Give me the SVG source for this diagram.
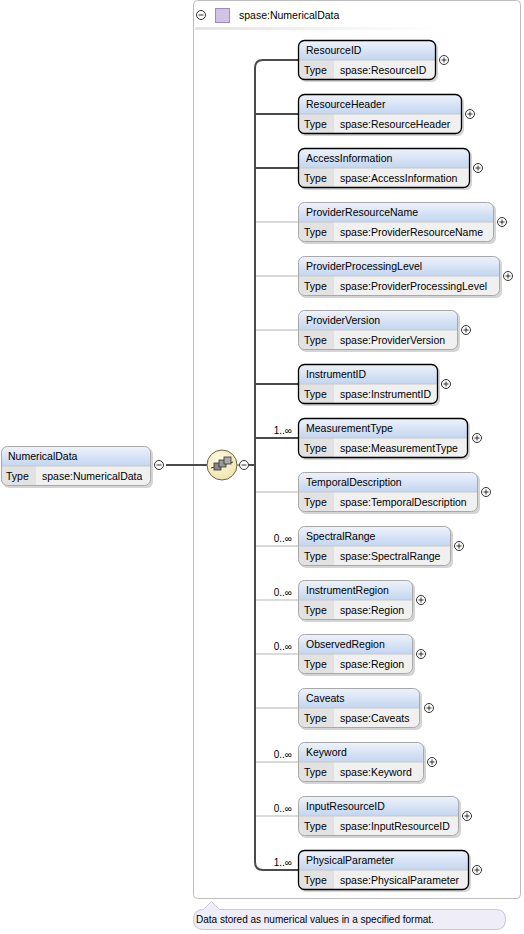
<svg xmlns="http://www.w3.org/2000/svg" width="524" height="934" viewBox="0 0 524 934">
<defs>
<linearGradient id="hdr" x1="0" y1="0" x2="0" y2="1"><stop offset="0" stop-color="#eef3fb"/><stop offset="1" stop-color="#c3d5f0"/></linearGradient>
<linearGradient id="ttl" x1="0" y1="0" x2="1" y2="0"><stop offset="0" stop-color="#e4e4e4"/><stop offset="1" stop-color="#ffffff"/></linearGradient>
<radialGradient id="seq" cx="0.4" cy="0.35" r="0.7"><stop offset="0" stop-color="#fffbe6"/><stop offset="1" stop-color="#efe3a8"/></radialGradient>
</defs>
<style>
text{font-family:"Liberation Sans",Arial,sans-serif;font-size:10.5px;fill:#000}
.sh{fill:#b8b8b8;opacity:0.6}
.hd{fill:url(#hdr)}
.row{fill:#f0f0f0}
.tc{fill:#e2e2e2}
.bd{fill:none;stroke:#000;stroke-width:1.3}
.bo{fill:none;stroke:#a8a8a8;stroke-width:1}
.sep{stroke:#c8c8c8;stroke-width:1}
.pl{fill:#fff;stroke:#333;stroke-width:1}
.pm{stroke:#333;stroke-width:1}
.req{stroke:#4a4a4a;stroke-width:2;fill:none}
.opt{stroke:#b4b4b4;stroke-width:1;fill:none}
.card{font-size:10px;text-anchor:end}
</style>

<!-- outer box -->
<rect x="193.5" y="0.5" width="327" height="898" rx="4" fill="#fff" stroke="#bdbdbd" stroke-width="1"/>
<rect x="195" y="27" width="245" height="3" fill="url(#ttl)"/>
<g id="title">
<circle cx="201" cy="15" r="4.5" class="pl"/><line x1="198.5" y1="15" x2="203.5" y2="15" class="pm"/>
<rect x="215.5" y="8.5" width="14" height="14" fill="#cfc3e6" stroke="#9a8cc0"/>
<text x="239" y="19">spase:NumericalData</text>
</g>

<g id="connectors">
<line x1="166" y1="465" x2="207" y2="465" stroke="#4a4a4a" stroke-width="2"/>
<line x1="237" y1="465" x2="239.5" y2="465" stroke="#4a4a4a" stroke-width="1"/>
<line x1="248.5" y1="465" x2="255" y2="465" stroke="#4a4a4a" stroke-width="2"/>
<path d="M298 60 H263 Q255 60 255 68 V862 Q255 870 263 870 H298" class="req"/>
<line x1="255" y1="114" x2="298" y2="114" class="req"/>
<line x1="255" y1="168" x2="298" y2="168" class="req"/>
<line x1="256" y1="222" x2="298" y2="222" class="opt"/>
<line x1="256" y1="276" x2="298" y2="276" class="opt"/>
<line x1="256" y1="330" x2="298" y2="330" class="opt"/>
<line x1="255" y1="384" x2="298" y2="384" class="req"/>
<line x1="255" y1="438" x2="298" y2="438" class="req"/>
<line x1="256" y1="492" x2="298" y2="492" class="opt"/>
<line x1="256" y1="546" x2="298" y2="546" class="opt"/>
<line x1="256" y1="600" x2="298" y2="600" class="opt"/>
<line x1="256" y1="654" x2="298" y2="654" class="opt"/>
<line x1="256" y1="708" x2="298" y2="708" class="opt"/>
<line x1="256" y1="762" x2="298" y2="762" class="opt"/>
<line x1="256" y1="816" x2="298" y2="816" class="opt"/>
</g>

<g id="NumericalData">
<rect x="3" y="448" width="150" height="40" rx="6" class="sh"/>
<path d="M1.5 466 V452 Q1.5 446.5 7 446.5 H145 Q150.5 446.5 150.5 452 V466 Z" class="hd"/>
<path d="M1.5 466 H150.5 V480 Q150.5 485.5 145 485.5 H7 Q1.5 485.5 1.5 480 Z" class="row"/>
<path d="M1.5 466 H36 V485.5 H7 Q1.5 485.5 1.5 480 Z" class="tc"/>
<line x1="1.5" y1="466" x2="150.5" y2="466" class="sep"/>
<rect x="1.5" y="446.5" width="149" height="39" rx="6" class="bo"/>
<text x="8" y="460">NumericalData</text>
<text x="6" y="480">Type</text>
<text x="42" y="480">spase:NumericalData</text>
<circle cx="159" cy="465" r="4.5" class="pl"/><line x1="156.5" y1="465" x2="161.5" y2="465" class="pm"/>
</g>

<g id="sequence">
<circle cx="222" cy="465" r="15" fill="url(#seq)" stroke="#6e6446" stroke-width="1"/>
<line x1="211" y1="468" x2="233" y2="462" stroke="#333" stroke-width="1"/>
<rect x="214" y="463" width="7" height="7" fill="#888" stroke="#333" stroke-width="0.8"/>
<rect x="219" y="460" width="7" height="7" fill="#999" stroke="#333" stroke-width="0.8"/>
<rect x="224" y="457" width="7" height="7" fill="#aaa" stroke="#333" stroke-width="0.8"/>
<circle cx="244" cy="465" r="4.5" class="pl"/><line x1="241.5" y1="465" x2="246.5" y2="465" class="pm"/>
</g>

<g id="ResourceID">
<rect x="300" y="42" width="138" height="40" rx="6" class="sh"/>
<path d="M298.5 60 V46 Q298.5 40.5 304 40.5 H430 Q435.5 40.5 435.5 46 V60 Z" class="hd"/>
<path d="M298.5 60 H435.5 V74 Q435.5 79.5 430 79.5 H304 Q298.5 79.5 298.5 74 Z" class="row"/>
<path d="M298.5 60 H334 V79.5 H304 Q298.5 79.5 298.5 74 Z" class="tc"/>
<line x1="298.5" y1="60" x2="435.5" y2="60" class="sep"/>
<rect x="298.5" y="40.5" width="137" height="39" rx="6" class="bd"/>
<text x="306" y="54">ResourceID</text><text x="304" y="74">Type</text><text x="340" y="74">spase:ResourceID</text>
<circle cx="444" cy="60" r="4.5" class="pl"/><line x1="441.5" y1="60" x2="446.5" y2="60" class="pm"/><line x1="444" y1="57.5" x2="444" y2="62.5" class="pm"/>
</g>

<g id="ResourceHeader">
<rect x="300" y="96" width="164" height="40" rx="6" class="sh"/>
<path d="M298.5 114 V100 Q298.5 94.5 304 94.5 H456 Q461.5 94.5 461.5 100 V114 Z" class="hd"/>
<path d="M298.5 114 H461.5 V128 Q461.5 133.5 456 133.5 H304 Q298.5 133.5 298.5 128 Z" class="row"/>
<path d="M298.5 114 H334 V133.5 H304 Q298.5 133.5 298.5 128 Z" class="tc"/>
<line x1="298.5" y1="114" x2="461.5" y2="114" class="sep"/>
<rect x="298.5" y="94.5" width="163" height="39" rx="6" class="bd"/>
<text x="306" y="108">ResourceHeader</text><text x="304" y="128">Type</text><text x="340" y="128">spase:ResourceHeader</text>
<circle cx="470" cy="114" r="4.5" class="pl"/><line x1="467.5" y1="114" x2="472.5" y2="114" class="pm"/><line x1="470" y1="111.5" x2="470" y2="116.5" class="pm"/>
</g>

<g id="AccessInformation">
<rect x="300" y="150" width="172" height="40" rx="6" class="sh"/>
<path d="M298.5 168 V154 Q298.5 148.5 304 148.5 H464 Q469.5 148.5 469.5 154 V168 Z" class="hd"/>
<path d="M298.5 168 H469.5 V182 Q469.5 187.5 464 187.5 H304 Q298.5 187.5 298.5 182 Z" class="row"/>
<path d="M298.5 168 H334 V187.5 H304 Q298.5 187.5 298.5 182 Z" class="tc"/>
<line x1="298.5" y1="168" x2="469.5" y2="168" class="sep"/>
<rect x="298.5" y="148.5" width="171" height="39" rx="6" class="bd"/>
<text x="306" y="162">AccessInformation</text><text x="304" y="182">Type</text><text x="340" y="182">spase:AccessInformation</text>
<circle cx="478" cy="168" r="4.5" class="pl"/><line x1="475.5" y1="168" x2="480.5" y2="168" class="pm"/><line x1="478" y1="165.5" x2="478" y2="170.5" class="pm"/>
</g>

<g id="ProviderResourceName">
<rect x="300" y="204" width="196" height="40" rx="6" class="sh"/>
<path d="M298.5 222 V208 Q298.5 202.5 304 202.5 H488 Q493.5 202.5 493.5 208 V222 Z" class="hd"/>
<path d="M298.5 222 H493.5 V236 Q493.5 241.5 488 241.5 H304 Q298.5 241.5 298.5 236 Z" class="row"/>
<path d="M298.5 222 H334 V241.5 H304 Q298.5 241.5 298.5 236 Z" class="tc"/>
<line x1="298.5" y1="222" x2="493.5" y2="222" class="sep"/>
<rect x="298.5" y="202.5" width="195" height="39" rx="6" class="bo"/>
<text x="306" y="216">ProviderResourceName</text><text x="304" y="236">Type</text><text x="340" y="236">spase:ProviderResourceName</text>
<circle cx="502" cy="222" r="4.5" class="pl"/><line x1="499.5" y1="222" x2="504.5" y2="222" class="pm"/><line x1="502" y1="219.5" x2="502" y2="224.5" class="pm"/>
</g>

<g id="ProviderProcessingLevel">
<rect x="300" y="258" width="202" height="40" rx="6" class="sh"/>
<path d="M298.5 276 V262 Q298.5 256.5 304 256.5 H494 Q499.5 256.5 499.5 262 V276 Z" class="hd"/>
<path d="M298.5 276 H499.5 V290 Q499.5 295.5 494 295.5 H304 Q298.5 295.5 298.5 290 Z" class="row"/>
<path d="M298.5 276 H334 V295.5 H304 Q298.5 295.5 298.5 290 Z" class="tc"/>
<line x1="298.5" y1="276" x2="499.5" y2="276" class="sep"/>
<rect x="298.5" y="256.5" width="201" height="39" rx="6" class="bo"/>
<text x="306" y="270">ProviderProcessingLevel</text><text x="304" y="290">Type</text><text x="340" y="290">spase:ProviderProcessingLevel</text>
<circle cx="508" cy="276" r="4.5" class="pl"/><line x1="505.5" y1="276" x2="510.5" y2="276" class="pm"/><line x1="508" y1="273.5" x2="508" y2="278.5" class="pm"/>
</g>

<g id="ProviderVersion">
<rect x="300" y="312" width="160" height="40" rx="6" class="sh"/>
<path d="M298.5 330 V316 Q298.5 310.5 304 310.5 H452 Q457.5 310.5 457.5 316 V330 Z" class="hd"/>
<path d="M298.5 330 H457.5 V344 Q457.5 349.5 452 349.5 H304 Q298.5 349.5 298.5 344 Z" class="row"/>
<path d="M298.5 330 H334 V349.5 H304 Q298.5 349.5 298.5 344 Z" class="tc"/>
<line x1="298.5" y1="330" x2="457.5" y2="330" class="sep"/>
<rect x="298.5" y="310.5" width="159" height="39" rx="6" class="bo"/>
<text x="306" y="324">ProviderVersion</text><text x="304" y="344">Type</text><text x="340" y="344">spase:ProviderVersion</text>
<circle cx="466" cy="330" r="4.5" class="pl"/><line x1="463.5" y1="330" x2="468.5" y2="330" class="pm"/><line x1="466" y1="327.5" x2="466" y2="332.5" class="pm"/>
</g>

<g id="InstrumentID">
<rect x="300" y="366" width="140" height="40" rx="6" class="sh"/>
<path d="M298.5 384 V370 Q298.5 364.5 304 364.5 H432 Q437.5 364.5 437.5 370 V384 Z" class="hd"/>
<path d="M298.5 384 H437.5 V398 Q437.5 403.5 432 403.5 H304 Q298.5 403.5 298.5 398 Z" class="row"/>
<path d="M298.5 384 H334 V403.5 H304 Q298.5 403.5 298.5 398 Z" class="tc"/>
<line x1="298.5" y1="384" x2="437.5" y2="384" class="sep"/>
<rect x="298.5" y="364.5" width="139" height="39" rx="6" class="bd"/>
<text x="306" y="378">InstrumentID</text><text x="304" y="398">Type</text><text x="340" y="398">spase:InstrumentID</text>
<circle cx="446" cy="384" r="4.5" class="pl"/><line x1="443.5" y1="384" x2="448.5" y2="384" class="pm"/><line x1="446" y1="381.5" x2="446" y2="386.5" class="pm"/>
</g>

<g id="MeasurementType">
<text x="292" y="434" class="card">1..∞</text>
<rect x="300" y="420" width="170" height="40" rx="6" class="sh"/>
<path d="M298.5 438 V424 Q298.5 418.5 304 418.5 H462 Q467.5 418.5 467.5 424 V438 Z" class="hd"/>
<path d="M298.5 438 H467.5 V452 Q467.5 457.5 462 457.5 H304 Q298.5 457.5 298.5 452 Z" class="row"/>
<path d="M298.5 438 H334 V457.5 H304 Q298.5 457.5 298.5 452 Z" class="tc"/>
<line x1="298.5" y1="438" x2="467.5" y2="438" class="sep"/>
<rect x="298.5" y="418.5" width="169" height="39" rx="6" class="bd"/>
<text x="306" y="432">MeasurementType</text><text x="304" y="452">Type</text><text x="340" y="452">spase:MeasurementType</text>
<circle cx="477" cy="438" r="4.5" class="pl"/><line x1="474.5" y1="438" x2="479.5" y2="438" class="pm"/><line x1="477" y1="435.5" x2="477" y2="440.5" class="pm"/>
</g>

<g id="TemporalDescription">
<rect x="300" y="474" width="180" height="40" rx="6" class="sh"/>
<path d="M298.5 492 V478 Q298.5 472.5 304 472.5 H472 Q477.5 472.5 477.5 478 V492 Z" class="hd"/>
<path d="M298.5 492 H477.5 V506 Q477.5 511.5 472 511.5 H304 Q298.5 511.5 298.5 506 Z" class="row"/>
<path d="M298.5 492 H334 V511.5 H304 Q298.5 511.5 298.5 506 Z" class="tc"/>
<line x1="298.5" y1="492" x2="477.5" y2="492" class="sep"/>
<rect x="298.5" y="472.5" width="179" height="39" rx="6" class="bo"/>
<text x="306" y="486">TemporalDescription</text><text x="304" y="506">Type</text><text x="340" y="506">spase:TemporalDescription</text>
<circle cx="486" cy="492" r="4.5" class="pl"/><line x1="483.5" y1="492" x2="488.5" y2="492" class="pm"/><line x1="486" y1="489.5" x2="486" y2="494.5" class="pm"/>
</g>

<g id="SpectralRange">
<text x="292" y="542" class="card">0..∞</text>
<rect x="300" y="528" width="153" height="40" rx="6" class="sh"/>
<path d="M298.5 546 V532 Q298.5 526.5 304 526.5 H445 Q450.5 526.5 450.5 532 V546 Z" class="hd"/>
<path d="M298.5 546 H450.5 V560 Q450.5 565.5 445 565.5 H304 Q298.5 565.5 298.5 560 Z" class="row"/>
<path d="M298.5 546 H334 V565.5 H304 Q298.5 565.5 298.5 560 Z" class="tc"/>
<line x1="298.5" y1="546" x2="450.5" y2="546" class="sep"/>
<rect x="298.5" y="526.5" width="152" height="39" rx="6" class="bo"/>
<text x="306" y="540">SpectralRange</text><text x="304" y="560">Type</text><text x="340" y="560">spase:SpectralRange</text>
<circle cx="459" cy="546" r="4.5" class="pl"/><line x1="456.5" y1="546" x2="461.5" y2="546" class="pm"/><line x1="459" y1="543.5" x2="459" y2="548.5" class="pm"/>
</g>

<g id="InstrumentRegion">
<text x="292" y="596" class="card">0..∞</text>
<rect x="300" y="582" width="115" height="40" rx="6" class="sh"/>
<path d="M298.5 600 V586 Q298.5 580.5 304 580.5 H407 Q412.5 580.5 412.5 586 V600 Z" class="hd"/>
<path d="M298.5 600 H412.5 V614 Q412.5 619.5 407 619.5 H304 Q298.5 619.5 298.5 614 Z" class="row"/>
<path d="M298.5 600 H334 V619.5 H304 Q298.5 619.5 298.5 614 Z" class="tc"/>
<line x1="298.5" y1="600" x2="412.5" y2="600" class="sep"/>
<rect x="298.5" y="580.5" width="114" height="39" rx="6" class="bo"/>
<text x="306" y="594">InstrumentRegion</text><text x="304" y="614">Type</text><text x="340" y="614">spase:Region</text>
<circle cx="421" cy="600" r="4.5" class="pl"/><line x1="418.5" y1="600" x2="423.5" y2="600" class="pm"/><line x1="421" y1="597.5" x2="421" y2="602.5" class="pm"/>
</g>

<g id="ObservedRegion">
<text x="292" y="650" class="card">0..∞</text>
<rect x="300" y="636" width="115" height="40" rx="6" class="sh"/>
<path d="M298.5 654 V640 Q298.5 634.5 304 634.5 H407 Q412.5 634.5 412.5 640 V654 Z" class="hd"/>
<path d="M298.5 654 H412.5 V668 Q412.5 673.5 407 673.5 H304 Q298.5 673.5 298.5 668 Z" class="row"/>
<path d="M298.5 654 H334 V673.5 H304 Q298.5 673.5 298.5 668 Z" class="tc"/>
<line x1="298.5" y1="654" x2="412.5" y2="654" class="sep"/>
<rect x="298.5" y="634.5" width="114" height="39" rx="6" class="bo"/>
<text x="306" y="648">ObservedRegion</text><text x="304" y="668">Type</text><text x="340" y="668">spase:Region</text>
<circle cx="421" cy="654" r="4.5" class="pl"/><line x1="418.5" y1="654" x2="423.5" y2="654" class="pm"/><line x1="421" y1="651.5" x2="421" y2="656.5" class="pm"/>
</g>

<g id="Caveats">
<rect x="300" y="690" width="122" height="40" rx="6" class="sh"/>
<path d="M298.5 708 V694 Q298.5 688.5 304 688.5 H414 Q419.5 688.5 419.5 694 V708 Z" class="hd"/>
<path d="M298.5 708 H419.5 V722 Q419.5 727.5 414 727.5 H304 Q298.5 727.5 298.5 722 Z" class="row"/>
<path d="M298.5 708 H334 V727.5 H304 Q298.5 727.5 298.5 722 Z" class="tc"/>
<line x1="298.5" y1="708" x2="419.5" y2="708" class="sep"/>
<rect x="298.5" y="688.5" width="121" height="39" rx="6" class="bo"/>
<text x="306" y="702">Caveats</text><text x="304" y="722">Type</text><text x="340" y="722">spase:Caveats</text>
<circle cx="429" cy="708" r="4.5" class="pl"/><line x1="426.5" y1="708" x2="431.5" y2="708" class="pm"/><line x1="429" y1="705.5" x2="429" y2="710.5" class="pm"/>
</g>

<g id="Keyword">
<text x="292" y="758" class="card">0..∞</text>
<rect x="300" y="744" width="126" height="40" rx="6" class="sh"/>
<path d="M298.5 762 V748 Q298.5 742.5 304 742.5 H418 Q423.5 742.5 423.5 748 V762 Z" class="hd"/>
<path d="M298.5 762 H423.5 V776 Q423.5 781.5 418 781.5 H304 Q298.5 781.5 298.5 776 Z" class="row"/>
<path d="M298.5 762 H334 V781.5 H304 Q298.5 781.5 298.5 776 Z" class="tc"/>
<line x1="298.5" y1="762" x2="423.5" y2="762" class="sep"/>
<rect x="298.5" y="742.5" width="125" height="39" rx="6" class="bo"/>
<text x="306" y="756">Keyword</text><text x="304" y="776">Type</text><text x="340" y="776">spase:Keyword</text>
<circle cx="432" cy="762" r="4.5" class="pl"/><line x1="429.5" y1="762" x2="434.5" y2="762" class="pm"/><line x1="432" y1="759.5" x2="432" y2="764.5" class="pm"/>
</g>

<g id="InputResourceID">
<text x="292" y="812" class="card">0..∞</text>
<rect x="300" y="798" width="161" height="40" rx="6" class="sh"/>
<path d="M298.5 816 V802 Q298.5 796.5 304 796.5 H453 Q458.5 796.5 458.5 802 V816 Z" class="hd"/>
<path d="M298.5 816 H458.5 V830 Q458.5 835.5 453 835.5 H304 Q298.5 835.5 298.5 830 Z" class="row"/>
<path d="M298.5 816 H334 V835.5 H304 Q298.5 835.5 298.5 830 Z" class="tc"/>
<line x1="298.5" y1="816" x2="458.5" y2="816" class="sep"/>
<rect x="298.5" y="796.5" width="160" height="39" rx="6" class="bo"/>
<text x="306" y="810">InputResourceID</text><text x="304" y="830">Type</text><text x="340" y="830">spase:InputResourceID</text>
<circle cx="467" cy="816" r="4.5" class="pl"/><line x1="464.5" y1="816" x2="469.5" y2="816" class="pm"/><line x1="467" y1="813.5" x2="467" y2="818.5" class="pm"/>
</g>

<g id="PhysicalParameter">
<text x="292" y="866" class="card">1..∞</text>
<rect x="300" y="852" width="171" height="40" rx="6" class="sh"/>
<path d="M298.5 870 V856 Q298.5 850.5 304 850.5 H463 Q468.5 850.5 468.5 856 V870 Z" class="hd"/>
<path d="M298.5 870 H468.5 V884 Q468.5 889.5 463 889.5 H304 Q298.5 889.5 298.5 884 Z" class="row"/>
<path d="M298.5 870 H334 V889.5 H304 Q298.5 889.5 298.5 884 Z" class="tc"/>
<line x1="298.5" y1="870" x2="468.5" y2="870" class="sep"/>
<rect x="298.5" y="850.5" width="170" height="39" rx="6" class="bd"/>
<text x="306" y="864">PhysicalParameter</text><text x="304" y="884">Type</text><text x="340" y="884">spase:PhysicalParameter</text>
<circle cx="477" cy="870" r="4.5" class="pl"/><line x1="474.5" y1="870" x2="479.5" y2="870" class="pm"/><line x1="477" y1="867.5" x2="477" y2="872.5" class="pm"/>
</g>

<g id="annotation">
<path d="M203.5 909.5 L211.5 901.5 L219.5 909.5 H496 Q505.5 909.5 505.5 919.5 Q505.5 929.5 496 929.5 H203 Q193.5 929.5 193.5 919.5 Q193.5 909.5 203.5 909.5 Z" fill="#eeedf8" stroke="#c9c7dc" stroke-width="1"/>
<text x="196" y="923" style="font-size:10px">Data stored as numerical values in a specified format.</text>
</g>
</svg>
